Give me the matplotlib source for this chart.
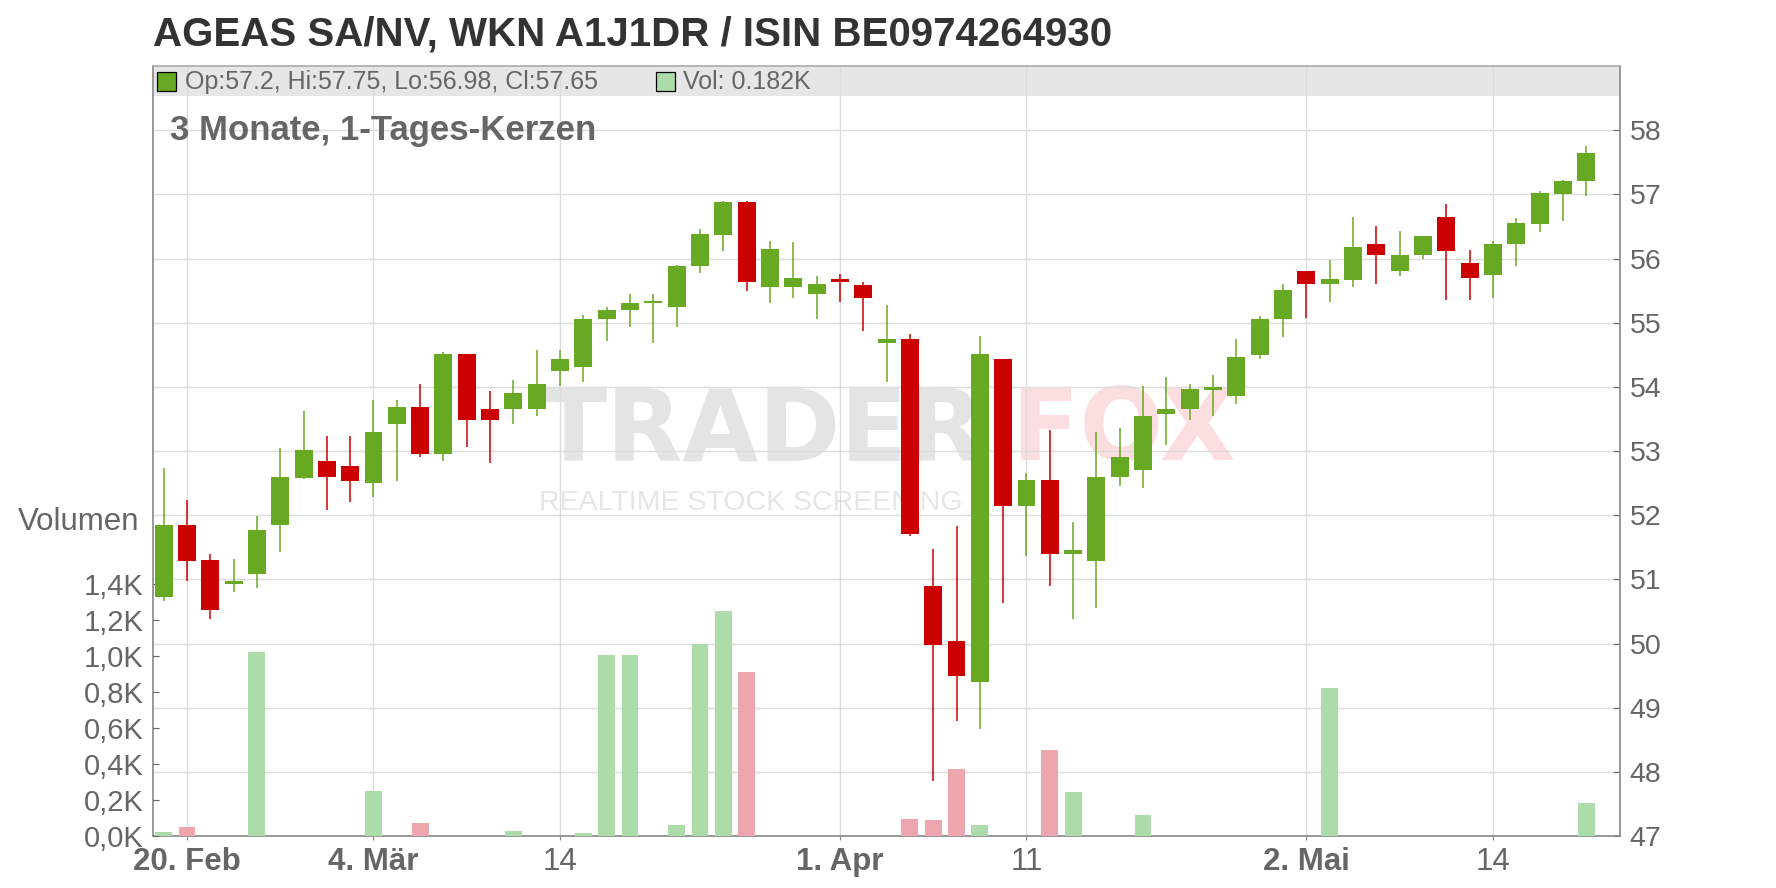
import matplotlib
matplotlib.use('Agg')
import matplotlib.pyplot as plt
from matplotlib.patches import Rectangle

plt.rcParams['font.family'] = ['Liberation Sans', 'DejaVu Sans']

# ---------------- data ----------------
dates = [
    '2025-02-19', '2025-02-20', '2025-02-21', '2025-02-24', '2025-02-25', '2025-02-26', '2025-02-27', '2025-02-28',
    '2025-03-03', '2025-03-04', '2025-03-05', '2025-03-06', '2025-03-07', '2025-03-10', '2025-03-11', '2025-03-12',
    '2025-03-13', '2025-03-14', '2025-03-17', '2025-03-18', '2025-03-19', '2025-03-20', '2025-03-21', '2025-03-24',
    '2025-03-25', '2025-03-26', '2025-03-27', '2025-03-28', '2025-03-31', '2025-04-01', '2025-04-02', '2025-04-03',
    '2025-04-04', '2025-04-07', '2025-04-08', '2025-04-09', '2025-04-10', '2025-04-11', '2025-04-14', '2025-04-15',
    '2025-04-16', '2025-04-17', '2025-04-22', '2025-04-23', '2025-04-24', '2025-04-25', '2025-04-28', '2025-04-29',
    '2025-04-30', '2025-05-02', '2025-05-05', '2025-05-06', '2025-05-07', '2025-05-08', '2025-05-09', '2025-05-12',
    '2025-05-13', '2025-05-14', '2025-05-15', '2025-05-16', '2025-05-19', '2025-05-20',
]
opens = [50.72, 51.85, 51.30, 50.92, 51.08, 51.84, 52.58, 52.85, 52.76, 52.50,
         53.42, 53.68, 52.95, 54.51, 53.66, 53.65, 53.65, 54.24, 54.31, 55.05,
         55.19, 55.30, 55.24, 55.88, 56.37, 56.88, 55.55, 55.55, 55.44, 55.65,
         55.58, 54.69, 54.74, 50.89, 50.04, 49.40, 54.44, 52.15, 52.55, 51.39,
         51.29, 52.59, 52.71, 53.57, 53.65, 53.95, 53.85, 54.49, 55.05, 55.81,
         55.60, 55.67, 56.23, 55.81, 56.05, 56.65, 55.93, 55.75, 56.22, 56.54,
         57.01, 57.20]
highs = [52.73, 52.23, 51.40, 51.31, 51.98, 53.05, 53.63, 53.24, 53.24, 53.80,
         53.79, 54.05, 54.54, 54.51, 53.93, 54.11, 54.58, 54.58, 55.12, 55.25,
         55.45, 55.44, 55.90, 56.46, 56.90, 56.90, 56.27, 56.26, 55.73, 55.76,
         55.64, 55.28, 54.82, 51.48, 51.83, 54.79, 54.44, 52.66, 53.33, 51.90,
         53.29, 53.36, 54.01, 54.16, 54.04, 54.19, 54.74, 55.11, 55.61, 55.81,
         55.98, 56.65, 56.51, 56.43, 56.35, 56.85, 56.13, 56.28, 56.63, 57.05,
         57.22, 57.75]
lows = [50.67, 50.97, 50.38, 50.81, 50.87, 51.42, 52.57, 52.08, 52.20, 52.29,
        52.54, 52.90, 52.84, 53.07, 52.82, 53.42, 53.54, 54.02, 54.07, 54.72,
        54.94, 54.68, 54.94, 55.77, 56.12, 55.50, 55.30, 55.38, 55.05, 55.32,
        54.87, 54.07, 51.67, 47.85, 48.79, 48.67, 50.63, 51.37, 50.89, 50.38,
        50.56, 52.45, 52.42, 53.10, 53.48, 53.54, 53.73, 54.43, 54.77, 55.07,
        55.32, 55.56, 55.60, 55.72, 56.00, 55.35, 55.35, 55.38, 55.89, 56.42,
        56.59, 56.98]
closes = [51.85, 51.29, 50.52, 50.98, 51.77, 52.59, 53.01, 52.59, 52.53, 53.29,
          53.68, 52.95, 54.51, 53.49, 53.49, 53.91, 54.05, 54.44, 55.06, 55.20,
          55.31, 55.33, 55.89, 56.38, 56.88, 55.63, 56.15, 55.70, 55.61, 55.63,
          55.38, 54.74, 51.71, 49.98, 49.49, 54.51, 52.15, 52.55, 51.39, 51.46,
          52.60, 52.91, 53.54, 53.66, 53.96, 53.99, 54.46, 55.06, 55.51, 55.60,
          55.68, 56.18, 56.06, 56.06, 56.35, 56.12, 55.69, 56.23, 56.55, 57.02,
          57.21, 57.65]
volumes_k = [0.022, 0.050, 0, 0, 1.026, 0, 0, 0, 0, 0.250,
             0, 0.070, 0, 0, 0, 0.030, 0, 0, 0.019, 1.006,
             1.006, 0, 0.063, 1.067, 1.251, 0.911, 0, 0, 0, 0,
             0, 0, 0.097, 0.091, 0.375, 0.063, 0, 0, 0.481, 0.247,
             0, 0, 0.119, 0, 0, 0, 0, 0, 0, 0,
             0.822, 0, 0, 0, 0, 0, 0, 0, 0, 0,
             0, 0.182]

tick_dates = ['2025-02-20', '2025-03-04', '2025-03-14', '2025-04-01', '2025-04-11', '2025-05-02', '2025-05-14']
tick_labels = ['20. Feb', '4. Mär', '14', '1. Apr', '11', '2. Mai', '14']
tick_bold = [True, True, False, True, False, True, False]
price_ticks = [47, 48, 49, 50, 51, 52, 53, 54, 55, 56, 57, 58]
vol_ticks = [0.0, 0.2, 0.4, 0.6, 0.8, 1.0, 1.2, 1.4]

title = 'AGEAS SA/NV, WKN A1J1DR / ISIN BE0974264930'
subtitle = '3 Monate, 1-Tages-Kerzen'
legend_ohlc = 'Op:57.2, Hi:57.75, Lo:56.98, Cl:57.65'
legend_vol = 'Vol: 0.182K'

# ---------------- style ----------------
GREEN = '#67a922'
RED = '#cc0000'
VGREEN = '#acdcaa'
VRED = '#eda6ae'
GRID = '#dcdcdc'
SPINE = '#888888'
TXT = '#666666'

W, H = 1776, 888
fig = plt.figure(figsize=(W / 100, H / 100), dpi=100)
L, R, T, B = 153, 1620, 66, 836
rect = [L / W, 1 - B / H, (R - L) / W, (B - T) / H]

ax_g = fig.add_axes(rect, zorder=0)
ax_v = fig.add_axes(rect, zorder=1, sharex=ax_g)
ax_p = fig.add_axes(rect, zorder=2, sharex=ax_g, sharey=ax_g)
for a in (ax_v, ax_p):
    a.patch.set_visible(False)
    for s in a.spines.values():
        s.set_visible(False)

xs = list(range(len(dates)))
ax_g.set_xlim(-0.455, 62.45)
ax_g.set_ylim(47, 59)

# grid axes (price scale on the right)
ax_g.set_axisbelow(True)
ax_g.yaxis.tick_right()
ax_g.set_yticks(price_ticks)
ax_g.set_yticklabels([str(p) for p in price_ticks])
ax_g.set_xticks([dates.index(d) for d in tick_dates])
ax_g.set_xticklabels(tick_labels)
for lab, b in zip(ax_g.get_xticklabels(), tick_bold):
    lab.set_fontweight('bold' if b else 'normal')
ax_g.tick_params(axis='x', direction='out', length=3, color=SPINE, labelsize=22.5,
                 labelcolor=TXT, pad=5)
ax_g.tick_params(axis='y', direction='in', length=5, color='#666666', labelsize=20.5,
                 labelcolor=TXT, pad=7, right=True, left=False)
ax_g.grid(True, color=GRID, lw=1.0)
for s in ax_g.spines.values():
    s.set_color(SPINE)
    s.set_linewidth(1.2)
ax_g.spines['top'].set_color('#aaaaaa')

# legend band
band_h = 30 / (B - T)
ax_g.add_patch(Rectangle((0, 1 - band_h), 1, band_h, transform=ax_g.transAxes,
                         facecolor='#e6e6e6', edgecolor='none', zorder=0.2))

# watermark
ax_g.text(539 / W, 1 - 460 / H, 'TRADER', transform=fig.transFigure, fontsize=71,
          fontweight='bold', family='DejaVu Sans', color='#e4e4e4', ha='left',
          va='baseline', zorder=0.3)
ax_g.text(1012 / W, 1 - 460 / H, 'FOX', transform=fig.transFigure, fontsize=71,
          fontweight='bold', family='DejaVu Sans', color='#fcdde0', ha='left',
          va='baseline', zorder=0.3)
ax_g.text(539 / W, 1 - 510 / H, 'REALTIME STOCK SCREENING', transform=fig.transFigure,
          fontsize=20.5, color='#e6e6e6', ha='left', va='baseline', zorder=0.3)

# volume axes (left scale)
ax_v.set_ylim(0, 4.283)
ax_v.bar(xs, volumes_k, width=0.72,
         color=[VGREEN if c >= o else VRED for o, c in zip(opens, closes)], zorder=2)
ax_v.set_yticks(vol_ticks)
ax_v.set_yticklabels([('%.1fK' % v).replace('.', ',') for v in vol_ticks])
ax_v.tick_params(axis='y', direction='in', length=4, color='#666666', labelsize=21,
                 labelcolor=TXT, pad=7)
ax_v.tick_params(axis='x', bottom=False, labelbottom=False)

# candles
ax_p.tick_params(left=False, right=False, bottom=False, labelleft=False,
                 labelright=False, labelbottom=False)
for i, (o, h, l, c) in enumerate(zip(opens, highs, lows, closes)):
    col = GREEN if c >= o else RED
    ax_p.vlines(i, l, h, color=col, lw=1.1, zorder=2)
    lo_b = min(o, c)
    hgt = max(abs(c - o), 0.045)
    ax_p.bar(i, hgt, bottom=lo_b, width=0.77, color=col, zorder=3)

# texts
fig.text(L / W, 1 - 46 / H, title, fontsize=28.95, fontweight='bold', color='#333333',
         ha='left', va='baseline')
fig.text(170 / W, 1 - 140 / H, subtitle, fontsize=25, fontweight='bold', color=TXT,
         ha='left', va='baseline', zorder=5)
fig.text(139 / W, 1 - 522 / H, 'Volumen', fontsize=22.5, color=TXT, ha='right', va='center')

# legend in band
fig.add_artist(Rectangle((157 / W, 1 - 91 / H), 19 / W, 19 / H, transform=fig.transFigure,
                         facecolor=GREEN, edgecolor='black', lw=0.9, zorder=5))
fig.text(185 / W, 1 - 89 / H, legend_ohlc, fontsize=18, color=TXT, ha='left',
         va='baseline', zorder=5)
fig.add_artist(Rectangle((656 / W, 1 - 91 / H), 19 / W, 19 / H, transform=fig.transFigure,
                         facecolor=VGREEN, edgecolor='black', lw=0.9, zorder=5))
fig.text(683 / W, 1 - 89 / H, legend_vol, fontsize=18, color=TXT, ha='left',
         va='baseline', zorder=5)

fig.savefig('out.png', dpi=100)
